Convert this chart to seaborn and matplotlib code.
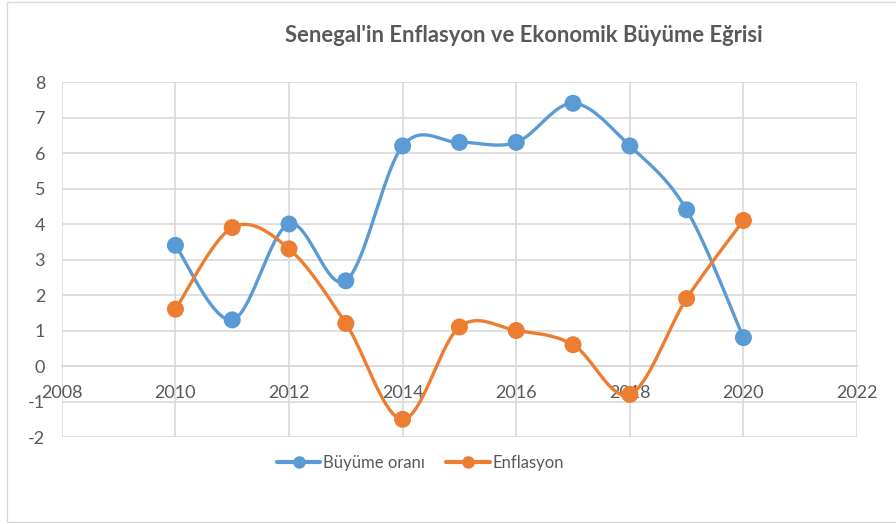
import numpy as np
import pandas as pd
import matplotlib
matplotlib.use("Agg")
import matplotlib.pyplot as plt
from matplotlib.lines import Line2D
from matplotlib.patches import Rectangle
import seaborn as sns

years = [2010, 2011, 2012, 2013, 2014, 2015, 2016, 2017, 2018, 2019, 2020]
growth = [3.4, 1.3, 4.0, 2.4, 6.2, 6.3, 6.3, 7.4, 6.2, 4.4, 0.8]
inflation = [1.6, 3.9, 3.3, 1.2, -1.5, 1.1, 1.0, 0.6, -0.8, 1.9, 4.1]
series_names = ["Büyüme oranı", "Enflasyon"]
title = "Senegal'in Enflasyon ve Ekonomik Büyüme Eğrisi"
x_ticks = [2008, 2010, 2012, 2014, 2016, 2018, 2020, 2022]
y_ticks = [-2, -1, 0, 1, 2, 3, 4, 5, 6, 7, 8]

BLUE = "#5B9BD5"
ORANGE = "#ED7D31"
TXT = "#595959"
GRID = "#D9D9D9"


def smooth(xv, yv, n=40):
    """Excel-like Catmull-Rom smoothing through the data points."""
    P = np.column_stack([xv, yv]).astype(float)
    P = np.vstack([P[0], P, P[-1]])
    out = []
    t = np.linspace(0, 1, n)
    for i in range(1, len(P) - 2):
        p0, p1, p2, p3 = P[i - 1], P[i], P[i + 1], P[i + 2]
        c1 = p1 + (p2 - p0) / 6.0
        c2 = p2 - (p3 - p1) / 6.0
        seg = ((1 - t) ** 3)[:, None] * p1 + (3 * (1 - t) ** 2 * t)[:, None] * c1 \
            + (3 * (1 - t) * t ** 2)[:, None] * c2 + (t ** 3)[:, None] * p2
        out.append(seg if i == 1 else seg[1:])
    S = np.vstack(out)
    return S[:, 0], S[:, 1]


sns.set_theme(style="white")
plt.rcParams["font.family"] = ["Lato", "DejaVu Sans"]

fig = plt.figure(figsize=(8.96, 5.24), dpi=100)
fig.patches.append(Rectangle((7 / 896, 2 / 524), 1.2, 1 - 4 / 524, transform=fig.transFigure,
                             fill=False, edgecolor=GRID, linewidth=1.0))
ax = fig.add_axes([0.069, 0.166, 0.8875, 0.6775])

df = pd.DataFrame({"year": years, "growth": growth, "inflation": inflation})

for col, color in [("growth", BLUE), ("inflation", ORANGE)]:
    sx, sy = smooth(df["year"].values, df[col].values)
    sns.lineplot(x=sx, y=sy, ax=ax, color=color, linewidth=2.4, sort=False, zorder=3)
    sns.scatterplot(x=df["year"], y=df[col], ax=ax, color=color, s=150,
                    edgecolor="none", zorder=4)

ax.set_xlim(2008, 2022)
ax.set_ylim(-2, 8)
ax.set_xticks(x_ticks)
ax.set_yticks(y_ticks)
ax.set_xticklabels([str(v) for v in x_ticks])
ax.set_yticklabels([str(v) for v in y_ticks])
ax.grid(True, color=GRID, linewidth=1.2)
ax.set_axisbelow(True)
for s in ["top", "right", "left"]:
    ax.spines[s].set_visible(False)
ax.spines["bottom"].set_position(("data", 0))
ax.spines["bottom"].set_color(GRID)
ax.spines["bottom"].set_linewidth(1.2)
ax.tick_params(axis="both", length=0, labelsize=13, colors=TXT)
ax.tick_params(axis="y", pad=12)
ax.tick_params(axis="x", pad=14)
ax.set_xlabel("")
ax.set_ylabel("")

fig.text(0.585, 0.933, title, ha="center", va="center", fontsize=15.8,
         fontweight="bold", color=TXT)

handles = [Line2D([], [], color=BLUE, lw=3, marker="o", markersize=8),
           Line2D([], [], color=ORANGE, lw=3, marker="o", markersize=8)]
fig.legend(handles, series_names, loc="center", bbox_to_anchor=(0.469, 0.1164), ncol=2,
           frameon=False, fontsize=12, labelcolor=TXT, handlelength=2.6,
           handletextpad=0.15, columnspacing=1.3)

fig.savefig("out.png", dpi=100)
